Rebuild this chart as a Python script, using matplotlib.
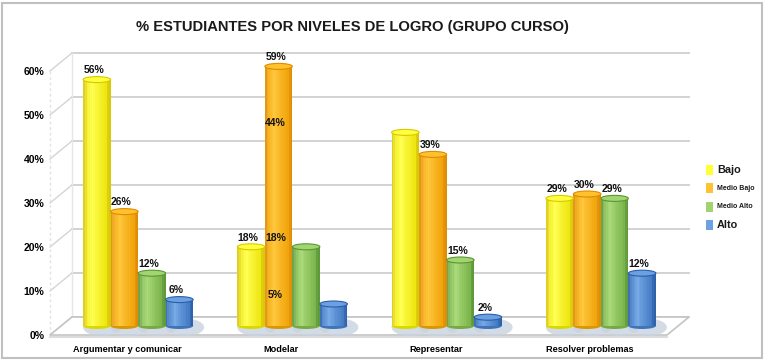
import matplotlib
matplotlib.use('Agg')
import matplotlib.pyplot as plt
from matplotlib.patches import Rectangle, Ellipse, Polygon
from matplotlib.colors import to_rgb
from matplotlib import font_manager
import numpy as np

categories = ['Argumentar y comunicar', 'Modelar', 'Representar', 'Resolver problemas']
series = ['Bajo', 'Medio Bajo', 'Medio Alto', 'Alto']
bajo = [56, 18, 44, 29]
medio_bajo = [26, 59, 39, 30]
medio_alto = [12, 18, 15, 29]
alto = [6, 5, 2, 12]
yticks = [0, 10, 20, 30, 40, 50, 60]

# some labels were dragged onto other bars: (serie, categoria) -> (categoria, barra)
label_spots = {(0, 2): (1, 1), (2, 1): (1, 1), (3, 1): (1, 1)}

# (borde, centro, brillo) de cada cilindro
shades = [('#d9c800', '#ffff00', '#ffff9a'),
          ('#e08a00', '#ffb300', '#ffd870'),
          ('#5a9636', '#8cc84e', '#c4e8a0'),
          ('#2a5ea8', '#4a8ad8', '#9cc4f0')]

names = {f.name for f in font_manager.fontManager.ttflist}
narrow = 'Liberation Sans Narrow' if 'Liberation Sans Narrow' in names else None
plt.rcParams['font.family'] = ['Liberation Sans', 'DejaVu Sans']

W, H = 765, 360
fig = plt.figure(figsize=(W / 100, H / 100), dpi=100)
ax = fig.add_axes([50 / W, (H - 335) / H, 617 / W, 264 / H])
ax.set_xlim(-0.5, 3.5)
ax.set_ylim(0, 60)
for s in ax.spines.values():
    s.set_visible(False)

px_x = 617 / 4.0
px_y = 264 / 60.0
DX, DY = 22 / px_x, 18 / px_y      # profundidad del cubo
bw = 27.5 / px_x                   # ancho de cada cilindro

# piso
floor = Polygon([(-0.5, 0), (3.5, 0), (3.5 + DX, DY), (-0.5 + DX, DY)],
                closed=True, fc='white', ec='#c4c4c4', lw=1.2, clip_on=False, zorder=1)
ax.add_patch(floor)
ax.plot([-0.5, 3.5], [-0.5, -0.5], color='#dcdcdc', lw=1.5, clip_on=False, zorder=0)

# pared del fondo y lateral
for y in yticks:
    ax.plot([-0.5 + DX, 3.5 + DX], [y + DY, y + DY], color='#cfcfcf', lw=1.3,
            clip_on=False, zorder=0.5)
    ax.plot([-0.5, -0.5 + DX], [y, y + DY], color='#d4d4d4', lw=1.0,
            clip_on=False, zorder=0.5)
ax.plot([-0.5, -0.5], [0, 60], color='#e2e2e2', lw=1.0, ls=(0, (2, 2)),
        clip_on=False, zorder=0.5)
ax.plot([-0.5 + DX, -0.5 + DX], [DY, 60 + DY], color='#e6e6e6', lw=1.0,
        clip_on=False, zorder=0.5)


def bar_center(c, i):
    return c + (i - 1.5) * bw


def cylinder(xc, v, cols):
    dark, mid, light = [np.array(to_rgb(k)) for k in cols]
    x0 = xc - bw / 2 + DX / 2
    base = DY / 2
    n = 16
    sw = bw / n
    cap_h = 6 / px_y
    # sombra en el piso
    ax.add_patch(Ellipse((x0 + bw * 0.7, base - 0.3), bw * 1.4, 4.0, fc='#c9d3e0',
                         ec='none', alpha=0.8, clip_on=False, zorder=2))
    ax.add_patch(Ellipse((x0 + bw / 2, base), bw, cap_h, fc=mid * 0.85, ec='none',
                         clip_on=False, zorder=3))
    for k in range(n):
        t = (k + 0.5) / n
        if t < 0.35:
            c = dark + (light - dark) * (t / 0.35) ** 0.7
        else:
            c = light + (dark - light) * ((t - 0.35) / 0.65) ** 0.8
        c = 0.55 * c + 0.45 * mid if 0.15 < t < 0.85 else c
        ax.add_patch(Rectangle((x0 + k * sw, base), sw * 1.05, v, fc=np.clip(c, 0, 1),
                               ec='none', lw=0, clip_on=False, zorder=3))
    ax.add_patch(Ellipse((x0 + bw / 2, base + v), bw, cap_h,
                         fc=np.clip(mid * 0.6 + light * 0.4, 0, 1), ec=dark, lw=0.8,
                         clip_on=False, zorder=4))


values = [bajo, medio_bajo, medio_alto, alto]
for i, serie in enumerate(values):
    for c, v in enumerate(serie):
        cylinder(bar_center(c, i), v, shades[i])

# etiquetas de datos
for i, serie in enumerate(values):
    for c, v in enumerate(serie):
        lc, li = label_spots.get((i, c), (c, i))
        lx = bar_center(lc, li) + DX / 2 - 3 / px_x
        ax.text(lx, v + DY / 2 + 2.1, f'{v}%', ha='center', va='center',
                fontsize=7.5, fontweight='bold', color='#111111', zorder=6, clip_on=False)

ax.set_yticks(yticks)
ax.set_yticklabels([f'{y}%' for y in yticks], fontsize=7.5, fontweight='bold')
ax.set_xticks(range(len(categories)))
ax.set_xticklabels(categories, fontsize=6.6, fontweight='bold')
ax.tick_params(axis='y', length=0, pad=4)
ax.tick_params(axis='x', length=0, pad=7)

title = '% ESTUDIANTES POR NIVELES DE LOGRO (GRUPO CURSO)'
if narrow:
    fig.text(352 / W, 1 - 27 / H, title, ha='center', va='center', fontsize=13,
             fontweight='bold', family=narrow, color='#1a1a1a')
else:
    fig.text(352 / W, 1 - 27 / H, title, ha='center', va='center', fontsize=10.6,
             fontweight='bold', color='#1a1a1a')

# leyenda
legend_rows = [(170, 7.8), (188, 5.0), (207, 5.0), (225, 7.8)]
for (y, fs), name, cols in zip(legend_rows, series, shades):
    fig.patches.append(Rectangle((706 / W, 1 - (y + 5) / H), 7 / W, 10 / H,
                                 transform=fig.transFigure, fc=cols[1], ec='none',
                                 alpha=0.8))
    fig.text(717 / W, 1 - y / H, name, ha='left', va='center', fontsize=fs,
             fontweight='bold', color='#1a1a1a')

fig.patches.append(Rectangle((2 / W, 2 / H), 760 / W, 355 / H, transform=fig.transFigure,
                             fill=False, ec='#c0c0c0', lw=1.5))

fig.savefig('out.png', dpi=100)
